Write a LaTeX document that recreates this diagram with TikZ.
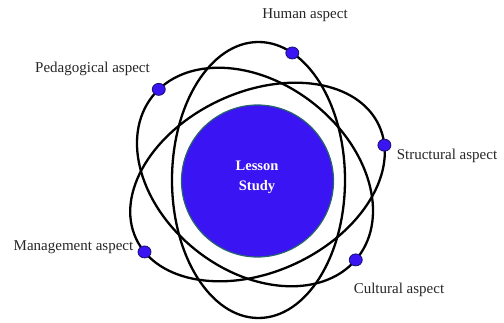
\documentclass[tikz,border=0pt]{standalone}
\usepackage{fontspec}
\setmainfont{Liberation Serif}
\usepackage{tikz}
\usetikzlibrary{calc}

\definecolor{corefill}{RGB}{58,20,242}
\definecolor{coreline}{RGB}{40,100,110}
\definecolor{dotline}{RGB}{20,20,110}

\tikzset{
  orbit/.style = {line width=2.3pt, black},
  electron/.style = {fill=corefill, draw=dotline, line width=0.8pt},
  aspect/.style = {font=\fontsize{15}{18}\selectfont, text=black!85, inner sep=0pt}
}

\begin{document}
\begin{tikzpicture}[x=1pt, y=1pt]
  \useasboundingbox (0,0) rectangle (504,322);

  % nucleus
  \coordinate (C) at (257.5,141);
  \filldraw[fill=corefill, draw=coreline, line width=1.2pt] (C) circle (76);
  \node[text=white, font=\bfseries\fontsize{14.5}{20}\selectfont, align=center] (core)
    at (257,145) {Lesson\\Study};

  % orbits, each with its own electron(s)
  \begin{scope}[shift={(258.5,142)}]
    \draw[orbit] (0,0) ellipse (86.5 and 138);
    \coordinate (E1) at (67:86.5 and 138);
  \end{scope}
  \begin{scope}[shift={(255,145)}, rotate=52]
    \draw[orbit] (0,0) ellipse (94 and 130.5);
    \coordinate (E2) at (84:94 and 130.5);
    \coordinate (E3) at (-92:94 and 130.5);
  \end{scope}
  \begin{scope}[shift={(257.5,140)}, rotate=-65]
    \draw[orbit] (0,0) ellipse (90 and 134);
    \coordinate (E4) at (77:90 and 134);
    \coordinate (E5) at (-80:90 and 134);
  \end{scope}

  \foreach \e in {E1,E2,E3,E4,E5}
    \filldraw[electron] (\e) ellipse (6.5 and 6);

  % labels
  \node[aspect] (human)  at (305,307) {Human aspect};
  \node[aspect] (pedago) at (92.5,253) {Pedagogical aspect};
  \node[aspect] (struct) at (447,166) {Structural aspect};
  \node[aspect] (manage) at (73.5,75) {Management aspect};
  \node[aspect] (cultur) at (399,32) {Cultural aspect};
\end{tikzpicture}
\end{document}
